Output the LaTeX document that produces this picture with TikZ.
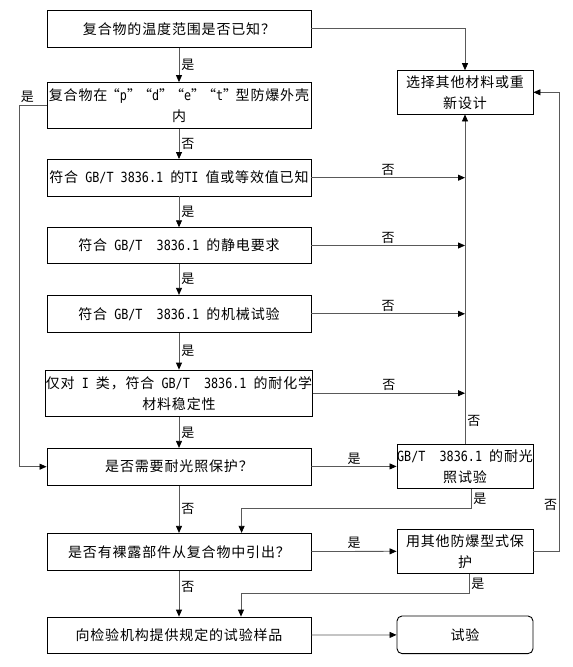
\documentclass[tikz,border=0pt]{standalone}
\usepackage{fontspec}
\setmainfont{Noto Sans CJK SC}[LetterSpace=6]
\newfontfamily\gbfont{DejaVu Sans Mono}[FakeStretch=0.84]
\newcommand{\gbt}[1]{{\gbfont #1}}
\newcommand{\qmark}[1]{\makebox[12.5pt][r]{“}\gbt{#1}\makebox[12.5pt][l]{”}}
\usetikzlibrary{arrows.meta}

\begin{document}
\begin{tikzpicture}[x=1pt,y=-1pt,
  box/.style={draw=black,line width=0.9pt,minimum width=264pt,inner sep=0pt,align=center,font=\fontsize{14}{21}\selectfont},
  rbox/.style={box,minimum width=136pt},
  arr/.style={draw=black!65,line width=0.8pt,-{Triangle[length=7pt,width=6pt,black]}},
  lab/.style={font=\fontsize{13}{15}\selectfont,inner sep=2pt}]
\useasboundingbox (0,0) rectangle (573,667);

% left column
\node[box,minimum height=36.5pt] (known) at (179,28.8) {复合物的温度范围是否已知？};
\node[box,minimum height=45.5pt] (encl) at (179,105.3) {复合物在\qmark{p}\qmark{d}\qmark{e}\qmark{t}型防爆外壳\\内};
\node[box,minimum height=36.5pt] (ti) at (179,177.7) {符合\gbt{~GB/T~3836.1~}的\gbt{TI~}值或等效值已知};
\node[box,minimum height=35.6pt] (esd) at (179,245.5) {符合\gbt{~GB/T~~3836.1~}的静电要求};
\node[box,minimum height=37pt] (mech) at (179,313.8) {符合\gbt{~GB/T~~3836.1~}的机械试验};
\node[box,minimum height=46.3pt] (chem) at (179,393.2) {仅对\gbt{~I~}类，符合\gbt{~GB/T~~3836.1~}的耐化学\\材料稳定性};
\node[box,minimum height=36.7pt] (uv) at (179,466.7) {是否需要耐光照保护？};
\node[box,minimum height=36.7pt] (bare) at (179,551.7) {是否有裸露部件从复合物中引出？};
\node[box,minimum height=36.3pt] (sample) at (179,635.2) {向检验机构提供规定的试验样品};

% right column
\node[rbox,minimum height=43.3pt] (redo) at (465,92.3) {选择其他材料或重\\新设计};
\node[rbox,minimum height=44pt] (uvtest) at (465,466.3) {\gbt{GB/T~~3836.1~}的耐光\\照试验};
\node[rbox,minimum height=43.7pt] (other) at (465,551.2) {用其他防爆型式保\\护};
\node[rbox,rounded corners=5pt,minimum height=37.6pt] (test) at (465,634.8) {试验};

% main chain
\draw[arr] (known.east) -| (redo.north);
\draw[arr] (known) -- node[lab,right]{是} (encl);
\draw[arr] (encl) -- node[lab,right]{否} (ti);
\draw[arr] (ti) -- node[lab,right]{是} (esd);
\draw[arr] (esd) -- node[lab,right]{是} (mech);
\draw[arr] (mech) -- node[lab,right]{是} (chem);
\draw[arr] (chem) -- node[lab,right]{是} (uv);
\draw[arr] (uv) -- node[lab,right]{否} (bare);
\draw[arr] (bare) -- node[lab,right,pos=0.35]{否} (sample);
\draw[arr] (encl.west) -- node[lab,above,pos=0.7]{是} ++(-27.5,0) |- (uv.west);

% failures to the trunk
\draw[arr] (ti.east) -- node[lab,above]{否} (ti.east -| redo.south);
\draw[arr] (esd.east) -- node[lab,above]{否} (esd.east -| redo.south);
\draw[arr] (mech.east) -- node[lab,above]{否} (mech.east -| redo.south);
\draw[arr] (chem.east) -- node[lab,above]{否} (chem.east -| redo.south);
\draw[arr] (uvtest.north) -- node[lab,right,pos=0.07]{否} (redo.south);

% right branches
\draw[arr] (uv) -- node[lab,above]{是} (uvtest);
\draw[arr] (bare) -- node[lab,above]{是} (other);
\draw[arr] ([xshift=6pt]uvtest.south) -- node[lab,right]{是} ++(0,20) -| ([xshift=62.6pt]bare.north);
\draw[arr] ([xshift=4pt]other.south) -- node[lab,right]{是} ++(0,20) -| ([xshift=62pt]sample.north);
\draw[arr] (other.east) -- ++(26,0) |- node[lab,left,pos=0.05]{否} (redo.east);
\draw[arr] (sample) -- (test);
\end{tikzpicture}
\end{document}
